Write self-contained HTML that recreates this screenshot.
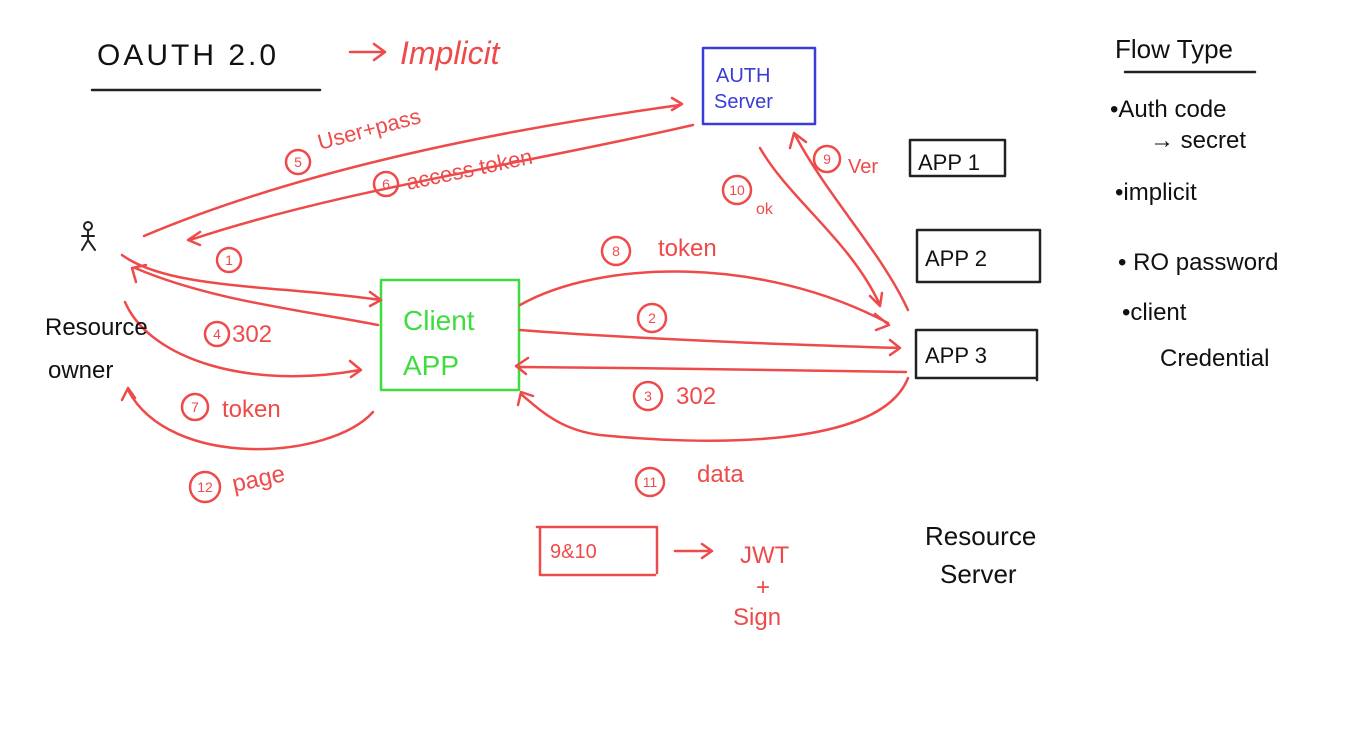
<!DOCTYPE html>
<html><head><meta charset="utf-8"><style>
html,body{margin:0;padding:0;background:#fff;}
svg{display:block}
text{font-family:"Liberation Sans",sans-serif;}
.r{fill:#ef4a4a}.k{fill:#111}
</style></head><body>
<svg width="1362" height="746" viewBox="0 0 1362 746" xmlns="http://www.w3.org/2000/svg">
<g fill="none" stroke-linecap="round" stroke-linejoin="round">
<!-- title -->
<line x1="92" y1="90" x2="320" y2="90" stroke="#222" stroke-width="2.5"/>
<path d="M350 52 L385 52 M374 44 L385 52 L374 60" stroke="#ef4a4a" stroke-width="2.5"/>
<!-- auth server -->
<rect x="703" y="48" width="112" height="76" stroke="#3b3bd6" stroke-width="2.5"/>
<!-- flow type underline -->
<line x1="1125" y1="72" x2="1255" y2="72" stroke="#222" stroke-width="2.5"/>
<!-- app boxes -->
<path d="M910 140 H1005 V176 M910 140 V176 H1005" stroke="#222" stroke-width="2.5"/>
<path d="M917 230 H1040 V282 M917 230 V282 H1040" stroke="#222" stroke-width="2.5"/>
<path d="M916 330 H1037 V380 M916 330 V378 H1037" stroke="#222" stroke-width="2.5"/>
<!-- client app -->
<rect x="381" y="280" width="138" height="110" stroke="#3fdc3f" stroke-width="2.5"/>
<!-- stick figure -->
<g stroke="#222" stroke-width="2">
<circle cx="88" cy="226" r="4"/><path d="M88 231 L88 240 M82 236 L94 236 M88 240 L82 250 M88 240 L95 250"/>
</g>
<!-- red connectors -->
<g stroke="#ef4a4a" stroke-width="2.5">
<path d="M144 236 C300 170 500 130 680 105 M672 98 L682 104 L672 110"/>
<path d="M693 125 C520 165 340 190 190 240 M200 232 L188 240 L200 245"/>
<path d="M122 255 C170 290 280 285 380 300 M370 292 L381 300 L370 306"/>
<path d="M378 325 C300 310 210 300 135 268 M136 282 L132 268 L146 265"/>
<path d="M125 302 C150 360 250 390 360 370 M350 361 L361 370 L351 377"/>
<path d="M373 412 C330 460 170 470 128 390 M122 400 L128 388 L135 398"/>
<path d="M520 305 C600 260 760 255 888 323 M875 314 L889 325 L876 330"/>
<path d="M520 330 C650 340 800 345 900 348 M890 340 L900 348 L890 355"/>
<path d="M906 372 C800 370 650 368 520 367 M528 358 L516 366 L526 374"/>
<path d="M908 378 C880 450 700 445 600 435 C560 430 540 410 522 395 M518 405 L521 392 L533 396"/>
<path d="M760 148 C790 200 850 240 880 305 M870 296 L880 306 L882 293"/>
<path d="M908 310 C880 250 830 200 795 135 M790 148 L794 133 L806 142"/>
<!-- 9&10 box -->
<path d="M537 527 H657 V573 M540 527 V575 H655" />
<path d="M675 551 H712 M702 544 L712 551 L702 558"/>
<!-- circles -->
<circle cx="298" cy="162" r="12"/><circle cx="386" cy="184" r="12"/>
<circle cx="229" cy="260" r="12"/><circle cx="217" cy="334" r="12"/>
<circle cx="195" cy="407" r="13"/><circle cx="205" cy="487" r="15"/>
<circle cx="616" cy="251" r="14"/><circle cx="652" cy="318" r="14"/>
<circle cx="648" cy="396" r="14"/><circle cx="650" cy="482" r="14"/>
<circle cx="827" cy="159" r="13"/><circle cx="737" cy="190" r="14"/>
</g>
</g>
<!-- texts -->
<text x="97" y="65" font-size="30" class="k" letter-spacing="3">OAUTH  2.0</text>
<text x="400" y="64" font-size="32" class="r" font-style="italic">Implicit</text>
<text x="716" y="82" font-size="20" fill="#3b3bd6">AUTH</text>
<text x="714" y="108" font-size="20" fill="#3b3bd6">Server</text>
<text x="1115" y="58" font-size="26" class="k">Flow Type</text>
<text x="1110" y="117" font-size="24" class="k">•Auth code</text>
<text x="1150" y="148" font-size="24" class="k">→ secret</text>
<text x="1115" y="200" font-size="24" class="k">•implicit</text>
<text x="1118" y="270" font-size="24" class="k">• RO password</text>
<text x="1122" y="320" font-size="24" class="k">•client</text>
<text x="1160" y="366" font-size="24" class="k">Credential</text>
<text x="918" y="170" font-size="22" class="k">APP 1</text>
<text x="925" y="266" font-size="22" class="k">APP 2</text>
<text x="925" y="363" font-size="22" class="k">APP 3</text>
<text x="403" y="330" font-size="28" fill="#3fdc3f">Client</text>
<text x="403" y="375" font-size="28" fill="#3fdc3f">APP</text>
<text x="45" y="335" font-size="24" class="k">Resource</text>
<text x="48" y="378" font-size="24" class="k">owner</text>
<text x="925" y="545" font-size="26" class="k">Resource</text>
<text x="940" y="583" font-size="26" class="k">Server</text>
<g font-size="14" class="r" text-anchor="middle">
<text x="298" y="167">5</text><text x="386" y="189">6</text><text x="229" y="265">1</text>
<text x="217" y="339">4</text><text x="195" y="412">7</text><text x="205" y="492">12</text>
<text x="616" y="256">8</text><text x="652" y="323">2</text><text x="648" y="401">3</text>
<text x="650" y="487">11</text><text x="827" y="164">9</text><text x="737" y="195">10</text>
</g>
<text x="320" y="150" font-size="22" class="r" transform="rotate(-15 320 150)">User+pass</text>
<text x="408" y="190" font-size="22" class="r" transform="rotate(-12 408 190)">access token</text>
<text x="232" y="342" font-size="24" class="r">302</text>
<text x="222" y="417" font-size="24" class="r">token</text>
<text x="234" y="492" font-size="24" class="r" transform="rotate(-12 234 492)">page</text>
<text x="658" y="256" font-size="24" class="r">token</text>
<text x="676" y="404" font-size="24" class="r">302</text>
<text x="697" y="482" font-size="24" class="r">data</text>
<text x="848" y="173" font-size="20" class="r">Ver</text>
<text x="756" y="214" font-size="16" class="r">ok</text>
<text x="550" y="558" font-size="20" class="r">9&amp;10</text>
<text x="740" y="563" font-size="24" class="r">JWT</text>
<text x="756" y="595" font-size="24" class="r">+</text>
<text x="733" y="625" font-size="24" class="r">Sign</text>
</svg>
</body></html>
